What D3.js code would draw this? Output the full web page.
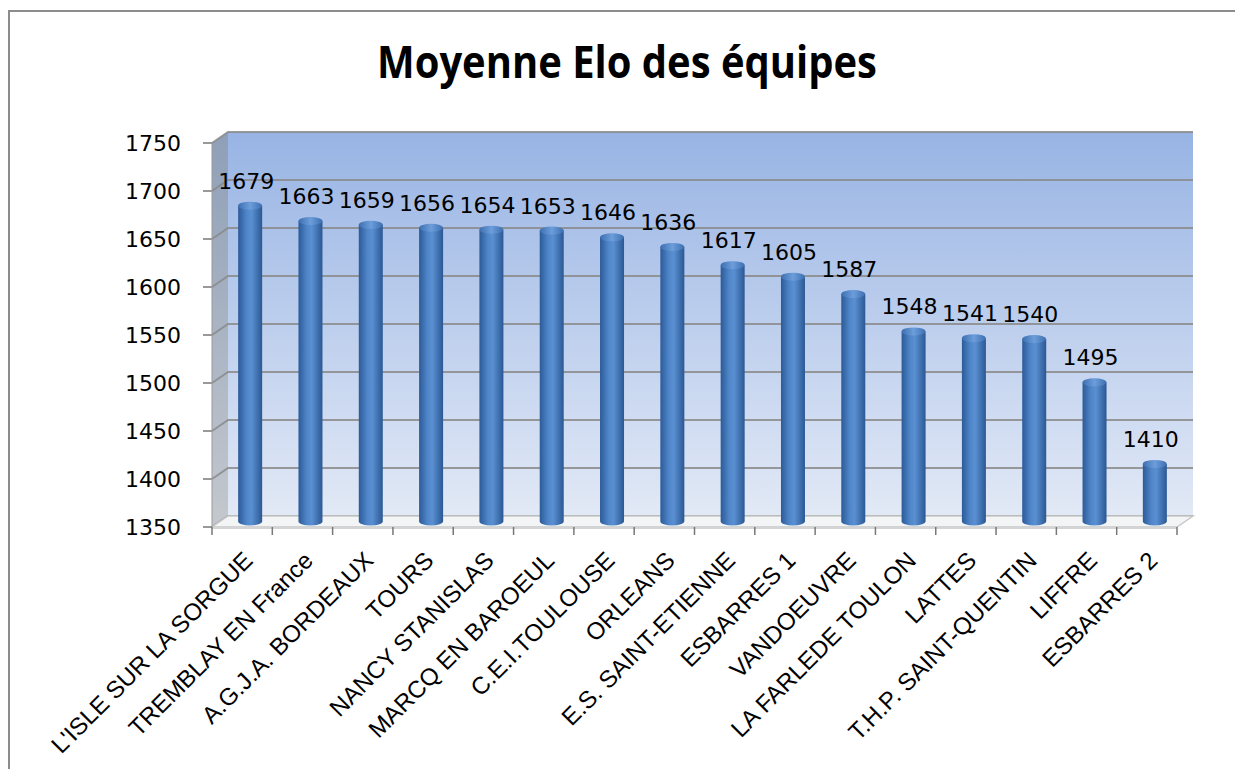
<!DOCTYPE html>
<html>
<head>
<meta charset="utf-8">
<script src="https://cdnjs.cloudflare.com/ajax/libs/d3/7.8.5/d3.min.js"></script>
<style>
  body { margin: 0; background: #fff; overflow: hidden; }
</style>
</head>
<body>
<div id="chart"></div>
<script>
// data
const teams = ["L'ISLE SUR LA SORGUE", "TREMBLAY EN France", "A.G.J.A. BORDEAUX", "TOURS",
  "NANCY STANISLAS", "MARCQ EN BAROEUL", "C.E.I.TOULOUSE", "ORLEANS", "E.S. SAINT-ETIENNE",
  "ESBARRES 1", "VANDOEUVRE", "LA FARLEDE TOULON", "LATTES", "T.H.P. SAINT-QUENTIN",
  "LIFFRE", "ESBARRES 2"];
const elo = [1679, 1663, 1659, 1656, 1654, 1653, 1646, 1636, 1617, 1605, 1587, 1548, 1541, 1540, 1495, 1410];
const yTicks = [1350, 1400, 1450, 1500, 1550, 1600, 1650, 1700, 1750];
const title = "Moyenne Elo des équipes";

const width = 1235, height = 769;
const margin = {top: 143, right: 58, bottom: 242, left: 212};
const depth = {dx: 16, dy: -11}; // 3d offset of the back wall

const svg = d3.select("#chart").append("svg")
  .attr("width", width).attr("height", height)
  .style("display", "block");

const defs = svg.append("defs");

// back wall gradient
const gWall = defs.append("linearGradient").attr("id", "wall")
  .attr("x1", 0).attr("y1", 0).attr("x2", 0).attr("y2", 1);
gWall.append("stop").attr("offset", "0%").attr("stop-color", "#98b4e4");
gWall.append("stop").attr("offset", "100%").attr("stop-color", "#e2e9f6");

const gSide = defs.append("linearGradient").attr("id", "side")
  .attr("x1", 0).attr("y1", 0).attr("x2", 0).attr("y2", 1);
gSide.append("stop").attr("offset", "0%").attr("stop-color", "#8e9fb8");
gSide.append("stop").attr("offset", "100%").attr("stop-color", "#c4c8ce");

// cylinder shading
const gBar = defs.append("linearGradient").attr("id", "bar")
  .attr("x1", 0).attr("y1", 0).attr("x2", 1).attr("y2", 0);
gBar.append("stop").attr("offset", "0%").attr("stop-color", "#2c5a98");
gBar.append("stop").attr("offset", "35%").attr("stop-color", "#4f86c9");
gBar.append("stop").attr("offset", "55%").attr("stop-color", "#5a90d2");
gBar.append("stop").attr("offset", "100%").attr("stop-color", "#2b5894");

const gTop = defs.append("linearGradient").attr("id", "bartop")
  .attr("x1", 0).attr("y1", 0).attr("x2", 1).attr("y2", 0);
gTop.append("stop").attr("offset", "0%").attr("stop-color", "#3d6eb0");
gTop.append("stop").attr("offset", "50%").attr("stop-color", "#6d9edb");
gTop.append("stop").attr("offset", "100%").attr("stop-color", "#3d6eb0");

// outer frame: only the top and left edges fall inside the picture
svg.append("path")
  .attr("d", `M9,${height}L9,11L${width},11`)
  .attr("fill", "none").attr("stroke", "#8c8c8c").attr("stroke-width", 2);

const x = d3.scaleBand()
  .domain(teams)
  .range([margin.left, width - margin.right])
  .paddingInner(0).paddingOuter(0);

const y = d3.scaleLinear()
  .domain([yTicks[0], yTicks[yTicks.length - 1]])
  .range([height - margin.bottom, margin.top]);

const x0 = x.range()[0], x1 = x.range()[1];
const yb = y(yTicks[0]), yt = y(yTicks[yTicks.length - 1]);

// back wall
svg.append("rect")
  .attr("x", x0 + depth.dx).attr("y", yt + depth.dy)
  .attr("width", x1 - x0).attr("height", yb - yt)
  .attr("fill", "url(#wall)");

// left side wall
svg.append("path")
  .attr("d", `M${x0},${yt}L${x0 + depth.dx},${yt + depth.dy}L${x0 + depth.dx},${yb + depth.dy}L${x0},${yb}Z`)
  .attr("fill", "url(#side)");

// gridlines on side and back wall
const grid = svg.append("g");
yTicks.forEach(t => {
  grid.append("path")
    .attr("d", `M${x0},${y(t)}L${x0 + depth.dx},${y(t) + depth.dy}L${x1 + depth.dx},${y(t) + depth.dy}`)
    .attr("fill", "none").attr("stroke", "#8a8a8a").attr("stroke-width", 2).attr("opacity", 0.85);
});

// floor
svg.append("path")
  .attr("d", `M${x0},${yb}L${x1},${yb}L${x1 + depth.dx},${yb + depth.dy}L${x0 + depth.dx},${yb + depth.dy}Z`)
  .attr("fill", "#f3f4f6").attr("stroke", "#c8c8c8").attr("stroke-width", 1.5);
svg.append("rect")
  .attr("x", x0).attr("y", yb).attr("width", x1 - x0).attr("height", 2)
  .attr("fill", "#d4d4d4");

// bars as cylinders
const bw = 24, ry = 4;
const bars = svg.append("g").selectAll("g").data(teams).join("g")
  .attr("transform", d => `translate(${x(d) + x.bandwidth() / 2 + depth.dx / 2},0)`);

bars.append("path")
  .attr("d", (d, i) => {
    const top = y(elo[i]) + depth.dy / 2, bot = yb + depth.dy / 2;
    return `M${-bw / 2},${top}L${-bw / 2},${bot}A${bw / 2},${ry} 0 0 0 ${bw / 2},${bot}L${bw / 2},${top}Z`;
  })
  .attr("fill", "url(#bar)");

bars.append("ellipse")
  .attr("cx", 0).attr("cy", (d, i) => y(elo[i]) + depth.dy / 2)
  .attr("rx", bw / 2).attr("ry", ry)
  .attr("fill", "url(#bartop)");

// value labels
bars.append("text")
  .attr("x", -4).attr("y", (d, i) => y(elo[i]) + depth.dy / 2 - 17)
  .attr("text-anchor", "middle")
  .style("font-family", "'Comic Sans MS', 'DejaVu Sans', sans-serif")
  .style("font-size", "22px")
  .attr("fill", "#000")
  .text((d, i) => elo[i]);

// y axis (front)
const yAxis = svg.append("g");
yTicks.forEach(t => {
  yAxis.append("line")
    .attr("x1", x0 - 9).attr("x2", x0).attr("y1", y(t)).attr("y2", y(t))
    .attr("stroke", "#777").attr("stroke-width", 1.5);
  yAxis.append("text")
    .attr("x", x0 - 31).attr("y", y(t)).attr("dy", "0.36em")
    .attr("text-anchor", "end")
    .style("font-family", "'DejaVu Sans', sans-serif")
    .style("font-size", "22px")
    .text(t);
});
yAxis.append("line")
  .attr("x1", x0).attr("x2", x0).attr("y1", yt).attr("y2", yb)
  .attr("stroke", "#999").attr("stroke-width", 1);

// x axis ticks and labels
const xAxis = svg.append("g");
teams.concat([null]).forEach((d, i) => {
  const xx = x0 + i * x.bandwidth();
  xAxis.append("line")
    .attr("x1", xx).attr("x2", xx).attr("y1", yb).attr("y2", yb + 8)
    .attr("stroke", "#777").attr("stroke-width", 1.5);
});
xAxis.selectAll("text").data(teams).join("text")
  .attr("text-anchor", "end")
  .attr("transform", d => `translate(${x(d) + x.bandwidth() / 2 + 12},${yb + 35}) rotate(-45)`)
  .style("font-family", "'Liberation Sans', Arial, sans-serif")
  .style("font-size", "24px")
  .text(d => d);

// title: Calibri-like, so a taller font squeezed to the reference width
const tt = svg.append("text")
  .attr("x", 0).attr("y", 0)
  .attr("text-anchor", "middle")
  .style("font-family", "'Open Sans', sans-serif")
  .style("font-weight", "bold")
  .style("font-size", "44px")
  .text(title);
const tw = tt.node().getComputedTextLength();
tt.attr("transform", `translate(627,78) scale(${500 / tw},1)`);
</script>
</body>
</html>
